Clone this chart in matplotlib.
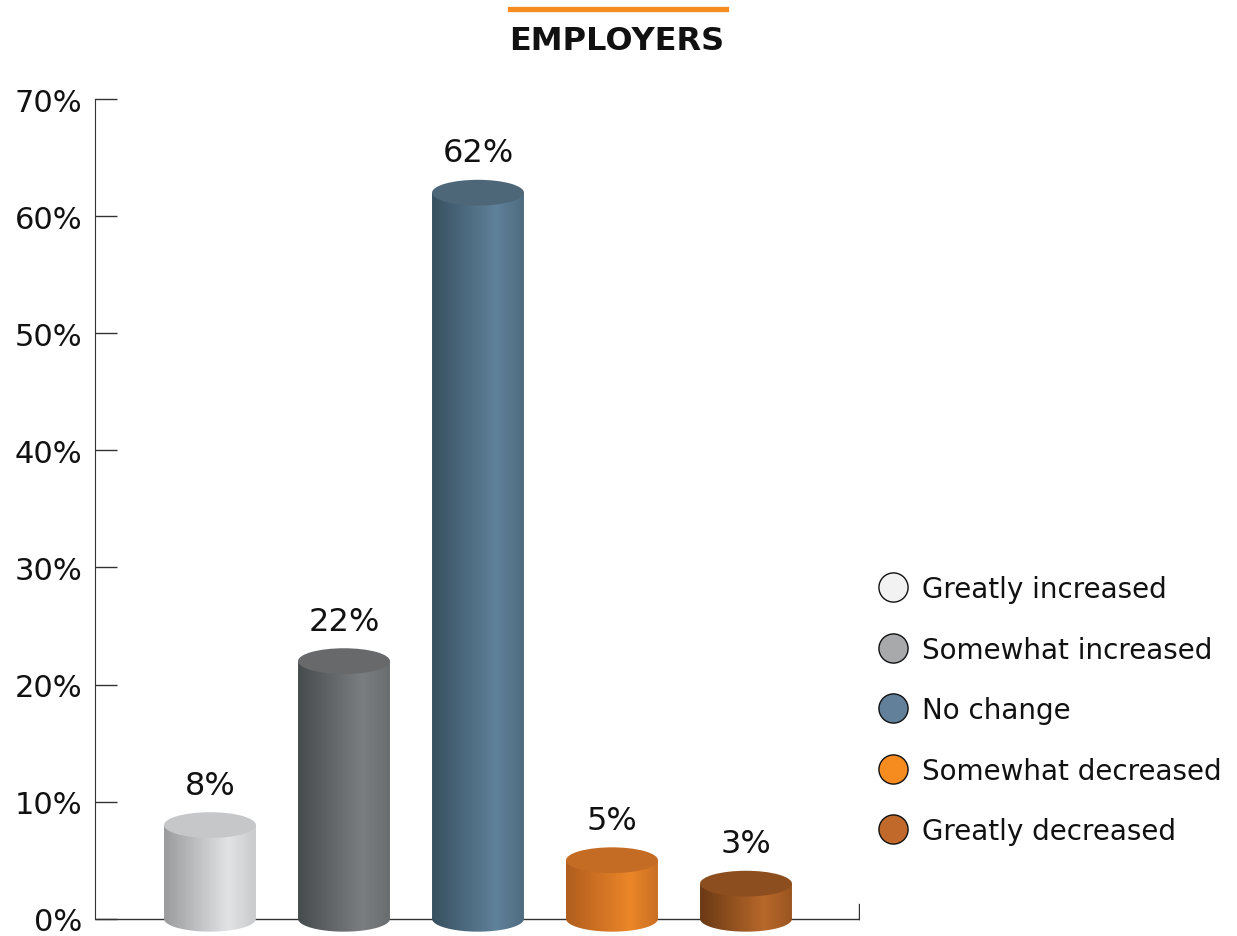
import numpy as np
import matplotlib.pyplot as plt
from matplotlib.path import Path
from matplotlib.patches import PathPatch, Ellipse
from matplotlib.lines import Line2D
from matplotlib.colors import to_rgb

plt.rcParams['font.family'] = ['DejaVu Sans']

categories = ["Greatly increased", "Somewhat increased", "No change",
              "Somewhat decreased", "Greatly decreased"]
values = [8, 22, 62, 5, 3]
labels = ["8%", "22%", "62%", "5%", "3%"]
legend_colors = ["#f2f2f2", "#a7a9ab", "#63809a", "#f68b1f", "#c0692a"]
# body shading: left edge, highlight, right edge; then top cap colour
body_colors = [
    ("#999b9d", "#e2e3e4", "#c9cacb"),
    ("#464b4d", "#7b7e80", "#6a6d6f"),
    ("#37505f", "#5f819a", "#4f6c80"),
    ("#b05d1e", "#ec8628", "#c96f24"),
    ("#6a3914", "#b8682a", "#9a5520"),
]
top_colors = ["#c6c7c9", "#67696b", "#4d6778", "#c56c24", "#8d4e1f"]
yticks = [0, 10, 20, 30, 40, 50, 60, 70]

fig = plt.figure(figsize=(12.37, 9.37), dpi=100)
ax = fig.add_axes([95 / 1237, 2 / 937, 765 / 1237, 835 / 937])

step = 134
xs = np.arange(len(values))
xlim = ((95 - 210) / step, (860 - 210) / step)
ylim = (-1.3, 70)
rx = 0.343
ry = 1.1


def shade(cols, n=256):
    c = [np.array(to_rgb(k)) for k in cols]
    t = np.linspace(0, 1, n)
    out = np.zeros((1, n, 3))
    for i, tt in enumerate(t):
        if tt < 0.7:
            f = tt / 0.7
            out[0, i] = c[0] * (1 - f) + c[1] * f
        else:
            f = (tt - 0.7) / 0.3
            out[0, i] = c[1] * (1 - f) + c[2] * f
    return out


for x, v, bc, tc, lab in zip(xs, values, body_colors, top_colors, labels):
    th = np.linspace(np.pi, 2 * np.pi, 60)
    verts = [(x - rx, v)] + [(x + rx * np.cos(a), ry * np.sin(a)) for a in th] + [(x + rx, v), (x - rx, v)]
    body = Path(verts, closed=True)
    patch = PathPatch(body, facecolor="none", edgecolor="none")
    ax.add_patch(patch)
    im = ax.imshow(shade(bc), extent=[x - rx, x + rx, -ry, v], aspect="auto",
                   zorder=3, interpolation="bilinear")
    im.set_clip_path(patch)
    ax.add_patch(Ellipse((x, v), 2 * rx, 2 * ry, facecolor=tc, edgecolor="none", zorder=4))
    ax.text(x, v + 3.4, lab, ha="center", va="center", fontsize=23, color="#111111")

ax.set_xlim(*xlim)
ax.set_ylim(*ylim)

for s in ["top", "right", "bottom"]:
    ax.spines[s].set_visible(False)
ax.spines["left"].set_bounds(0, 70)
ax.spines["left"].set_color("#333333")
ax.plot(xlim, [0, 0], color="#333333", lw=1, zorder=1, solid_capstyle="butt")
ax.plot([xlim[1] - 0.005, xlim[1] - 0.005], [0, 1.3], color="#333333", lw=1, zorder=1)

ax.set_xticks([])
ax.set_yticks(yticks)
ax.set_yticklabels([f"{t}%" for t in yticks])
ax.tick_params(axis="y", direction="in", length=16, width=1, color="#333333",
               labelsize=22, pad=9, labelcolor="#111111")

# title with accent bar
fig.add_artist(Line2D([510 / 1237, 726 / 1237], [1 - 10 / 937, 1 - 10 / 937],
                      color="#f68b1f", lw=3.8, transform=fig.transFigure))
fig.text(617 / 1237, 1 - 42 / 937, "EMPLOYERS", ha="center", va="center",
         fontsize=23, fontweight="bold", color="#111111")

handles = [Line2D([], [], marker="o", ls="none", markersize=21, markerfacecolor=c,
                  markeredgecolor="#111111", markeredgewidth=1) for c in legend_colors]
fig.legend(handles, categories, loc="upper left", bbox_to_anchor=(865 / 1237, 1 - 565 / 937),
           frameon=False, fontsize=20, labelspacing=1.17, handletextpad=0.45,
           handlelength=1.2, borderaxespad=0, labelcolor="#111111")

fig.savefig("out.png", dpi=100)
